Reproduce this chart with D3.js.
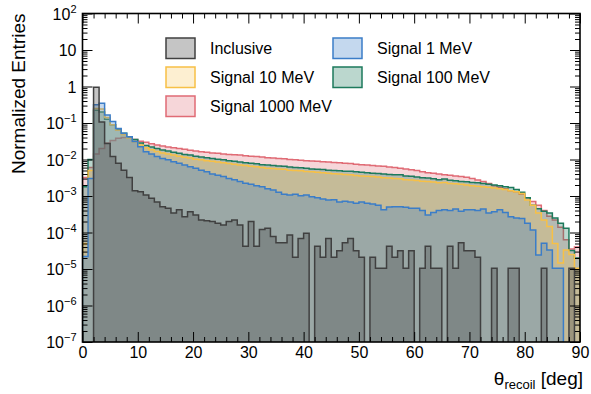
<!DOCTYPE html>
<html>
<head>
<meta charset="utf-8">
<script src="https://cdn.jsdelivr.net/npm/d3@7"></script>
<style>
  html, body { margin: 0; padding: 0; background: #fff; }
  svg { display: block; font-family: "Liberation Sans", Arial, sans-serif; }
</style>
</head>
<body>
<svg id="chart" width="591" height="394"></svg>
<script>
// theta_recoil histograms, 1 deg bins from 0 to 90, normalized entries
const binEdges = d3.range(0, 91, 1);

const inclusive = [
  0, 0, 0.955, 0.107, 0.0275, 0.012, 7.9e-3, 5.1e-3, 3.2e-3, 1.4e-3,
  1.3e-3, 1.07e-3, 8.7e-4, 6.9e-4, 5.1e-4, 4.6e-4, 3.4e-4, 4.2e-4, 2.7e-4, 3.7e-4,
  3.0e-4, 2.2e-4, 2.1e-4, 2.0e-4, 1.8e-4, 1.6e-4, 2.0e-4, 2.2e-4, 1.6e-4, 4.2e-5,
  2.0e-4, 4.2e-5, 1.2e-4, 1.3e-4, 7.8e-5, 5.25e-5, 5.25e-5, 8.5e-5, 2.1e-5, 6.9e-5,
  9.5e-5, 0, 4.2e-5, 2.1e-5, 6.9e-5, 2.1e-5, 3.15e-5, 5.25e-5, 6.9e-5, 3.15e-5,
  2.1e-5, 0, 2.1e-5, 1.05e-5, 1.05e-5, 4.2e-5, 2.1e-5, 3.15e-5, 1.05e-5, 3.15e-5,
  0, 1.05e-5, 4.2e-5, 1.05e-5, 1.05e-5, 0, 4.2e-5, 1.05e-5, 5.25e-5, 3.15e-5,
  3.15e-5, 2.1e-5, 0, 0, 1.05e-5, 0, 0, 1.05e-5, 1.05e-5, 0,
  0, 0, 0, 1.05e-5, 0, 0, 0, 0, 1.05e-5, 0
];

const signal1 = [
  2.2e-5, 3.0e-3, 0.316, 0.35, 0.166, 0.11, 0.0708, 0.0525, 0.0417, 0.031,
  0.0224, 0.0162, 0.0141, 0.012, 0.0107, 9.8e-3, 8.7e-3, 7.9e-3, 7.1e-3, 6.3e-3,
  5.75e-3, 5.1e-3, 4.6e-3, 4.0e-3, 3.7e-3, 3.4e-3, 3.0e-3, 2.8e-3, 2.5e-3, 2.24e-3,
  2.1e-3, 1.9e-3, 1.78e-3, 1.58e-3, 1.45e-3, 1.26e-3, 1.12e-3, 1.07e-3, 1.12e-3, 1.02e-3,
  1.07e-3, 9.5e-4, 8.9e-4, 8.3e-4, 7.8e-4, 7.9e-4, 6.9e-4, 7.2e-4, 6.9e-4, 6.3e-4,
  6.9e-4, 6.3e-4, 6.0e-4, 5.6e-4, 4.2e-4, 5.0e-4, 5.1e-4, 5.1e-4, 4.9e-4, 4.6e-4,
  4.6e-4, 4.0e-4, 3.0e-4, 3.55e-4, 4.0e-4, 4.2e-4, 4.0e-4, 4.4e-4, 3.8e-4, 4.2e-4,
  4.2e-4, 4.0e-4, 4.4e-4, 3.4e-4, 3.7e-4, 4.2e-4, 3.55e-4, 2.7e-4, 2.5e-4, 2.4e-4,
  1.78e-4, 1.17e-4, 2.4e-5, 5.1e-5, 3.3e-5, 1.05e-5, 1.05e-5, 0, 0, 0
];

const signal10 = [
  5.0e-5, 5.0e-3, 0.25, 0.24, 0.141, 0.089, 0.063, 0.048, 0.038, 0.030,
  0.025, 0.021, 0.0186, 0.0166, 0.0151, 0.0141, 0.0132, 0.0123, 0.0115, 0.011,
  0.0102, 9.8e-3, 9.3e-3, 8.9e-3, 8.5e-3, 8.1e-3, 7.8e-3, 7.4e-3, 7.1e-3, 6.8e-3,
  6.5e-3, 6.3e-3, 6.0e-3, 5.75e-3, 5.7e-3, 5.5e-3, 5.4e-3, 5.1e-3, 5.0e-3, 4.9e-3,
  4.7e-3, 4.6e-3, 4.5e-3, 4.35e-3, 4.2e-3, 4.1e-3, 4.0e-3, 3.9e-3, 3.8e-3, 3.65e-3,
  3.55e-3, 3.45e-3, 3.4e-3, 3.3e-3, 3.16e-3, 3.1e-3, 3.0e-3, 2.95e-3, 2.8e-3, 2.75e-3,
  2.65e-3, 2.55e-3, 2.5e-3, 2.4e-3, 2.3e-3, 2.35e-3, 2.2e-3, 2.15e-3, 2.1e-3, 2.0e-3,
  1.9e-3, 1.85e-3, 1.78e-3, 1.74e-3, 1.66e-3, 1.58e-3, 1.5e-3, 1.4e-3, 1.3e-3, 1.17e-3,
  7.8e-4, 5.6e-4, 3.4e-4, 2.2e-4, 1.45e-4, 5.0e-5, 1.45e-5, 3.3e-5, 2.5e-5, 1.05e-5
];

const signal100 = [
  1.78e-3, 0.01, 0.224, 0.2, 0.126, 0.089, 0.066, 0.0525, 0.0417, 0.0355,
  0.0282, 0.024, 0.0219, 0.02, 0.0182, 0.017, 0.0158, 0.0148, 0.0138, 0.0132,
  0.0123, 0.0117, 0.0112, 0.0107, 0.0102, 9.8e-3, 9.3e-3, 8.9e-3, 8.5e-3, 8.1e-3,
  7.9e-3, 7.6e-3, 7.2e-3, 7.1e-3, 6.9e-3, 6.6e-3, 6.5e-3, 6.2e-3, 6.0e-3, 5.9e-3,
  5.75e-3, 5.5e-3, 5.4e-3, 5.3e-3, 5.1e-3, 5.0e-3, 4.9e-3, 4.8e-3, 4.75e-3, 4.6e-3,
  4.5e-3, 4.35e-3, 4.2e-3, 4.15e-3, 4.0e-3, 3.9e-3, 3.8e-3, 3.8e-3, 3.55e-3, 3.45e-3,
  3.3e-3, 3.16e-3, 3.1e-3, 2.95e-3, 2.8e-3, 2.9e-3, 2.7e-3, 2.6e-3, 2.5e-3, 2.45e-3,
  2.35e-3, 2.3e-3, 2.2e-3, 2.1e-3, 2.0e-3, 1.9e-3, 1.8e-3, 1.7e-3, 1.5e-3, 1.26e-3,
  8.9e-4, 5.6e-4, 4.5e-4, 3.8e-4, 3.4e-4, 2.5e-4, 1.78e-4, 1.3e-4, 3.2e-5, 2.0e-5
];

const signal1000 = [
  3.2e-3, 6.0e-3, 0.0141, 0.02, 0.0282, 0.033, 0.038, 0.0398, 0.0398, 0.0355,
  0.0316, 0.0295, 0.0269, 0.0251, 0.0234, 0.0219, 0.0209, 0.02, 0.0191, 0.0178,
  0.017, 0.0162, 0.0158, 0.0151, 0.0148, 0.0141, 0.0138, 0.0135, 0.0132, 0.0126,
  0.0123, 0.012, 0.0117, 0.0112, 0.011, 0.0107, 0.0105, 0.01, 9.8e-3, 9.5e-3,
  9.3e-3, 9.1e-3, 8.9e-3, 8.7e-3, 8.5e-3, 8.3e-3, 8.1e-3, 7.9e-3, 7.8e-3, 7.4e-3,
  7.2e-3, 7.1e-3, 6.8e-3, 6.6e-3, 6.5e-3, 6.2e-3, 6.0e-3, 5.75e-3, 5.5e-3, 5.25e-3,
  5.0e-3, 4.6e-3, 4.35e-3, 4.2e-3, 4.0e-3, 3.8e-3, 3.7e-3, 3.55e-3, 3.4e-3, 3.25e-3,
  3.0e-3, 2.75e-3, 2.5e-3, 2.2e-3, 1.9e-3, 1.74e-3, 1.58e-3, 1.4e-3, 1.3e-3, 1.12e-3,
  8.9e-4, 7.1e-4, 5.6e-4, 4.0e-4, 2.8e-4, 2.2e-4, 1.4e-4, 6.3e-5, 3.55e-5, 4.0e-5
];

const seriesNames = ['Inclusive', 'Signal 1 MeV', 'Signal 10 MeV', 'Signal 100 MeV', 'Signal 1000 MeV'];
const seriesValues = [inclusive, signal1, signal10, signal100, signal1000];
const edgeColors = ['#404040', '#3b7dc8', '#f7c046', '#1d7a5c', '#e06b75'];
const fillAlpha = [0.3, 0.3, 0.25, 0.3, 0.28];
// heaviest mass drawn first so the lighter ones sit on top
const drawOrder = [4, 3, 2, 1, 0];

const xMajor = [0, 10, 20, 30, 40, 50, 60, 70, 80, 90];
const yExponents = [-7, -6, -5, -4, -3, -2, -1, 0, 1, 2];

const W = 591, H = 394;
const margin = { top: 13.5, right: 11, bottom: 52, left: 82.5 };

const svg = d3.select('#chart');

const x = d3.scaleLinear().domain([0, 90]).range([margin.left, W - margin.right]);
const y = d3.scaleLog().domain([1e-7, 1e2]).range([H - margin.bottom, margin.top]);
const yBase = H - margin.bottom + 3;

svg.append('defs').append('clipPath').attr('id', 'plot-clip')
  .append('rect')
  .attr('x', margin.left).attr('y', margin.top)
  .attr('width', x(90) - x(0)).attr('height', y(1e-7) - y(1e2));

const plot = svg.append('g').attr('clip-path', 'url(#plot-clip)');

function stepPoints(vals) {
  const pts = [[x(binEdges[0]), yBase]];
  vals.forEach((v, i) => {
    const yy = v > 0 ? y(v) : yBase;
    pts.push([x(binEdges[i]), yy], [x(binEdges[i + 1]), yy]);
  });
  pts.push([x(binEdges[binEdges.length - 1]), yBase]);
  return pts;
}

const line = d3.line();

drawOrder.forEach(k => {
  const pts = stepPoints(seriesValues[k]);
  plot.append('path')
    .attr('d', line(pts) + 'Z')
    .attr('fill', edgeColors[k])
    .attr('fill-opacity', fillAlpha[k])
    .attr('stroke', 'none');
  plot.append('path')
    .attr('d', line(pts))
    .attr('fill', 'none')
    .attr('stroke', edgeColors[k])
    .attr('stroke-width', 1.5)
    .attr('stroke-linejoin', 'miter');
});

// minor tick values
const xMinor = d3.range(0, 91, 2).filter(v => v % 10 !== 0);
const yMinor = [];
yExponents.slice(0, -1).forEach(e => {
  for (let m = 2; m <= 9; m++) yMinor.push(m * Math.pow(10, e));
});
const yMajorVals = yExponents.map(e => Math.pow(10, e));

const axes = svg.append('g').attr('class', 'axes');

function styleAxis(g) {
  g.select('.domain').remove();
  g.selectAll('.tick line').attr('stroke', '#000').attr('stroke-width', 1);
}

axes.append('g').attr('transform', `translate(0,${y(1e-7)})`)
  .call(d3.axisBottom(x).tickValues(xMajor).tickSize(-10).tickPadding(5).tickFormat(d3.format('d')))
  .call(styleAxis)
  .call(g => g.selectAll('text').attr('font-size', 16).attr('fill', '#000')
    .attr('font-family', '"Liberation Sans", Arial, sans-serif'));
axes.append('g').attr('transform', `translate(0,${y(1e-7)})`)
  .call(d3.axisBottom(x).tickValues(xMinor).tickSize(-5).tickFormat(''))
  .call(styleAxis);
axes.append('g').attr('transform', `translate(0,${y(1e2)})`)
  .call(d3.axisTop(x).tickValues(xMajor).tickSize(-10).tickFormat(''))
  .call(styleAxis);
axes.append('g').attr('transform', `translate(0,${y(1e2)})`)
  .call(d3.axisTop(x).tickValues(xMinor).tickSize(-5).tickFormat(''))
  .call(styleAxis);

axes.append('g').attr('transform', `translate(${x(0)},0)`)
  .call(d3.axisLeft(y).tickValues(yMajorVals).tickSize(-10).tickFormat(''))
  .call(styleAxis);
axes.append('g').attr('transform', `translate(${x(0)},0)`)
  .call(d3.axisLeft(y).tickValues(yMinor).tickSize(-5).tickFormat(''))
  .call(styleAxis);
axes.append('g').attr('transform', `translate(${x(90)},0)`)
  .call(d3.axisRight(y).tickValues(yMajorVals).tickSize(-10).tickFormat(''))
  .call(styleAxis);
axes.append('g').attr('transform', `translate(${x(90)},0)`)
  .call(d3.axisRight(y).tickValues(yMinor).tickSize(-5).tickFormat(''))
  .call(styleAxis);

// y tick labels with superscript exponents
const yLab = axes.append('g').attr('font-size', 16).attr('fill', '#000');
yExponents.forEach(e => {
  const t = yLab.append('text')
    .attr('x', x(0) - 6)
    .attr('y', y(Math.pow(10, e)) + 6)
    .attr('text-anchor', 'end');
  if (e === 0) t.text('1');
  else if (e === 1) t.text('10');
  else {
    t.append('tspan').text('10');
    t.append('tspan').attr('font-size', 11).attr('dy', -7)
      .text(e < 0 ? '\u2212' + Math.abs(e) : String(e));
  }
});

// frame
svg.append('rect')
  .attr('x', x(0)).attr('y', y(1e2))
  .attr('width', x(90) - x(0)).attr('height', y(1e-7) - y(1e2))
  .attr('fill', 'none').attr('stroke', '#000').attr('stroke-width', 1.6);

// axis titles
svg.append('text')
  .attr('transform', `translate(25,${margin.top}) rotate(-90)`)
  .attr('text-anchor', 'end')
  .attr('font-size', 19)
  .text('Normalized Entries');

const xt = svg.append('text')
  .attr('x', 583).attr('y', 385)
  .attr('text-anchor', 'end')
  .attr('font-size', 19);
xt.append('tspan').text('\u03b8');
xt.append('tspan').attr('font-size', 13).attr('dy', 4).text('recoil');
xt.append('tspan').attr('dy', -4).text(' [deg]');

// legend: two columns, entries placed row by row
const legendCols = 2;
const legend = svg.append('g');
seriesNames.forEach((name, k) => {
  const col = k % legendCols;
  const row = Math.floor(k / legendCols);
  const lx = 166 + col * 167;
  const ly = 38 + row * 29;
  legend.append('rect')
    .attr('x', lx).attr('y', ly).attr('width', 29).attr('height', 20.5)
    .attr('fill', edgeColors[k]).attr('fill-opacity', fillAlpha[k])
    .attr('stroke', edgeColors[k]).attr('stroke-width', 1.5);
  legend.append('text')
    .attr('x', lx + 44).attr('y', ly + 16)
    .attr('font-size', 16)
    .text(name);
});
</script>
</body>
</html>
